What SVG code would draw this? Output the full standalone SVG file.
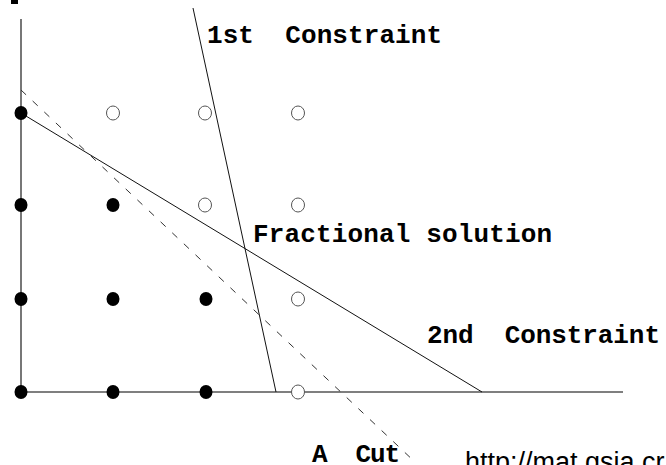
<svg xmlns="http://www.w3.org/2000/svg" width="666" height="465" viewBox="0 0 666 465">
<style>
.axis{stroke:#555;stroke-width:1.6;fill:none}
.line{stroke:#111;stroke-width:1;fill:none}
.cut{stroke:#333;stroke-width:1;fill:none;stroke-dasharray:7 9}
.full{fill:#000}
.open{fill:#fff;stroke:#555;stroke-width:1}
.lbl{font-family:"Liberation Mono","DejaVu Sans Mono",monospace;font-weight:bold;font-size:26px;fill:#000}
.url{font-family:"Liberation Sans",Arial,sans-serif;font-size:27px;fill:#000}
</style>
<rect x="11" y="0" width="7" height="4" fill="#000"/>
<g id="axes">
<line class="axis" x1="21" y1="19" x2="21" y2="392"/>
<line class="axis" x1="21" y1="392" x2="623" y2="392"/>
</g>
<g id="connectors">
<line class="line" x1="193" y1="8" x2="276" y2="392"/>
<line class="line" x1="21" y1="113" x2="482" y2="392"/>
<line class="cut" x1="21" y1="90" x2="416" y2="463"/>
</g>
<g id="integer-points">
<ellipse class="full" cx="21" cy="113" rx="6.5" ry="7"/>
<ellipse class="full" cx="21" cy="205" rx="6.5" ry="7"/>
<ellipse class="full" cx="113" cy="205" rx="6.5" ry="7"/>
<ellipse class="full" cx="21" cy="299" rx="6.5" ry="7"/>
<ellipse class="full" cx="113" cy="299" rx="6.5" ry="7"/>
<ellipse class="full" cx="206" cy="299" rx="6.5" ry="7"/>
<ellipse class="full" cx="21" cy="392" rx="6.5" ry="7"/>
<ellipse class="full" cx="113" cy="392" rx="6.5" ry="7"/>
<ellipse class="full" cx="206" cy="392" rx="6.5" ry="7"/>
</g>
<g id="infeasible-points">
<ellipse class="open" cx="113" cy="113" rx="6.5" ry="7"/>
<ellipse class="open" cx="205" cy="113" rx="6.5" ry="7"/>
<ellipse class="open" cx="298" cy="113" rx="6.5" ry="7"/>
<ellipse class="open" cx="205" cy="205" rx="6.5" ry="7"/>
<ellipse class="open" cx="298" cy="205" rx="6.5" ry="7"/>
<ellipse class="open" cx="298" cy="299" rx="6.5" ry="7"/>
<ellipse class="open" cx="298" cy="392" rx="6.5" ry="7"/>
</g>
<g id="labels">
<text class="lbl" x="207" y="43" textLength="235" lengthAdjust="spacing" xml:space="preserve">1st  Constraint</text>
<text class="lbl" x="253" y="242" textLength="299" lengthAdjust="spacing">Fractional solution</text>
<text class="lbl" x="427" y="343" textLength="233" lengthAdjust="spacing" xml:space="preserve">2nd  Constraint</text>
<text class="lbl" x="312" y="462" textLength="88" lengthAdjust="spacing" xml:space="preserve">A  Cut</text>
<text class="url" x="465" y="471">http://mat.gsia.cr</text>
</g>
</svg>
